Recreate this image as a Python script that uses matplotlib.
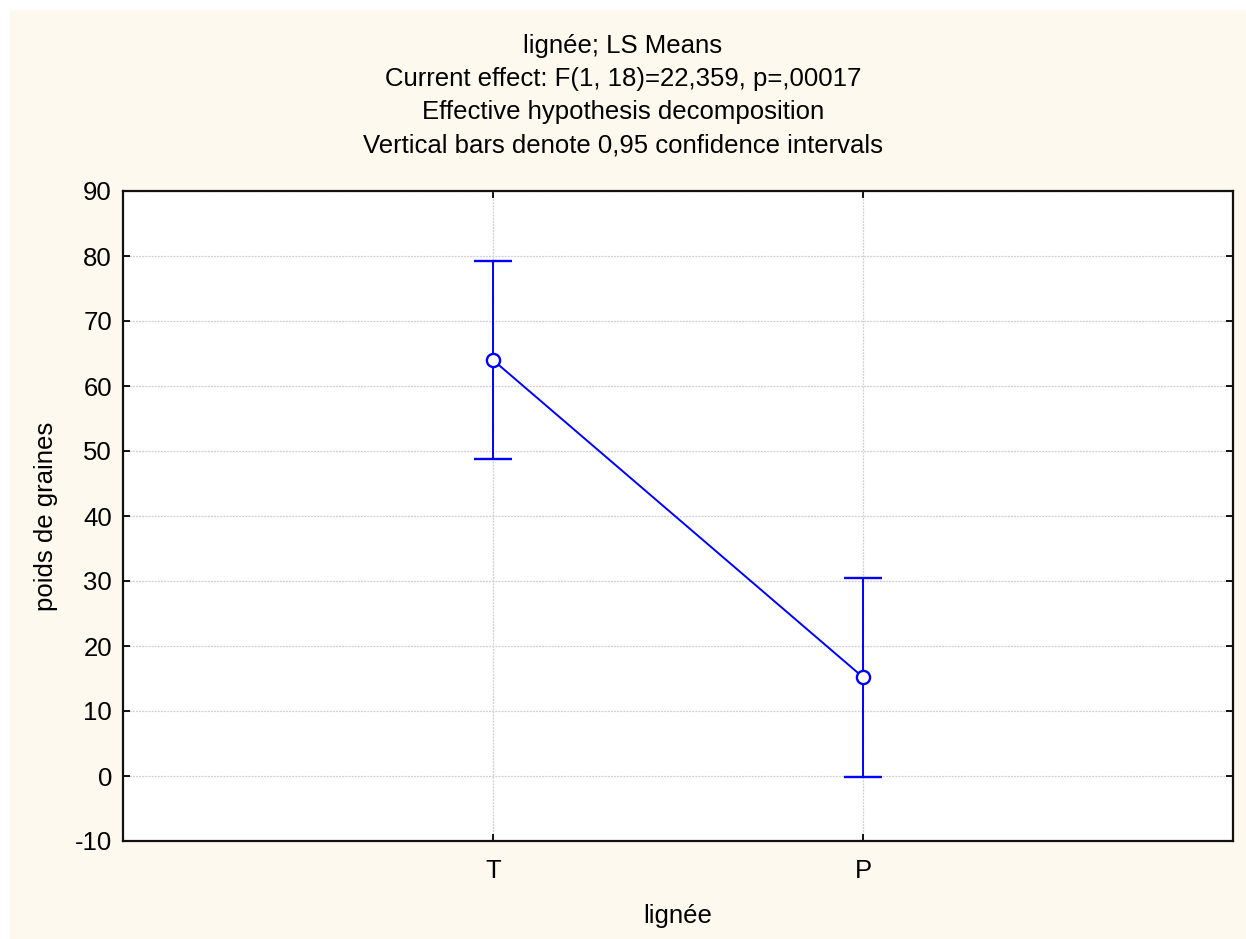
import matplotlib
matplotlib.use("Agg")
import matplotlib.pyplot as plt
from matplotlib.patches import Rectangle

# données
groupes = ["T", "P"]
moyennes = [64.0, 15.2]
ic_bas = [48.7, -0.1]
ic_haut = [79.3, 30.5]

titre = ["lignée; LS Means",
         "Current effect: F(1, 18)=22,359, p=,00017",
         "Effective hypothesis decomposition",
         "Vertical bars denote 0,95 confidence intervals"]
yticks = list(range(-10, 100, 10))

plt.rcParams['font.family'] = ['Liberation Sans', 'DejaVu Sans']
plt.rcParams['axes.unicode_minus'] = False
FS = 18.5

fig = plt.figure(figsize=(12.46, 9.39), dpi=100, facecolor='white')
# fond crème
fig.patches.append(Rectangle((10 / 1246, 0), 1, 1 - 10 / 939, transform=fig.transFigure,
                             facecolor='#fdf9ee', edgecolor='none', zorder=-10))

ax = fig.add_axes([123 / 1246, 98 / 939, 1110 / 1246, 650 / 939])
ax.set_facecolor('white')

x = [1, 2]
err_bas = [m - b for m, b in zip(moyennes, ic_bas)]
err_haut = [h - m for m, h in zip(moyennes, ic_haut)]
ax.errorbar(x, moyennes, yerr=[err_bas, err_haut], color='#0000ff', lw=1.4,
            elinewidth=1.4, capsize=13.5, capthick=1.4, marker='o', ms=9.5,
            mfc='white', mec='#0000ff', mew=1.7, zorder=3)

ax.set_xlim(0, 3)
ax.set_ylim(-10, 90)
ax.set_xticks(x)
ax.set_xticklabels(groupes)
ax.set_yticks(yticks)
ax.grid(True, color='#cfcfcf', linestyle=(0, (1.5, 1)), linewidth=0.9)
ax.tick_params(direction='in', length=5, width=1.3, labelsize=FS, top=True, right=True,
               pad=8)
ax.tick_params(axis='x', pad=13)
for s in ax.spines.values():
    s.set_linewidth(1.6)
    s.set_color('#111111')

ax.set_xlabel("lignée", fontsize=FS, labelpad=15)
ax.set_ylabel("poids de graines", fontsize=FS, labelpad=12)

for i, ligne in enumerate(titre):
    fig.text(0.5, 1 - (46 + 33 * i) / 939, ligne, ha='center', va='center', fontsize=FS)

fig.savefig("out.png", dpi=100, facecolor=fig.get_facecolor())
